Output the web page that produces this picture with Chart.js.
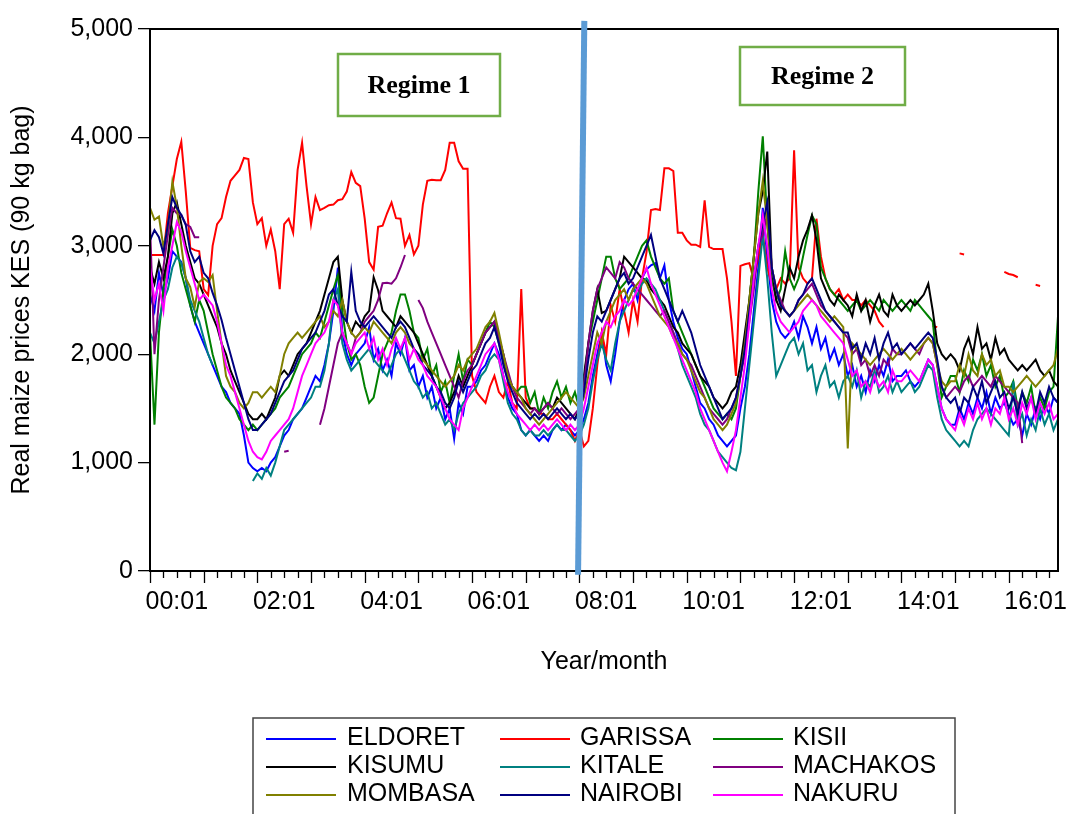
<!DOCTYPE html>
<html>
<head>
<meta charset="utf-8">
<title>Real maize prices</title>
<script src="https://cdn.jsdelivr.net/npm/chart.js@4.4.1/dist/chart.umd.min.js"></script>
<style>
    html, body { margin: 0; padding: 0; background: #fff; }
    #wrap { width: 1066px; height: 814px; }
</style>
</head>
<body>
<div id="wrap"><canvas id="maizeChart" width="1066" height="814"></canvas></div>
<script>
// monthly series, 2000:01 .. 2016:12
const startYear = 2000;
const monthCount = 204;
const xTickLabels = ['00:01', '02:01', '04:01', '06:01', '08:01', '10:01', '12:01', '14:01', '16:01'];
const yTickStep = 1000;
const yMax = 5000;

const cityNames = ['ELDORET', 'GARISSA', 'KISII', 'KISUMU', 'KITALE', 'MACHAKOS', 'MOMBASA', 'NAIROBI', 'NAKURU'];
const cityColors = ['#0000ff', '#ff0000', '#008000', '#000000', '#008080', '#800080', '#808000', '#000080', '#ff00ff'];

const eldoret = [
    2550, 2400, 2750, 2550, 2700, 2950, 2900, 2850, 2700, 2450, 2300, 2200,
    2100, 2000, 1900, 1800, 1700, 1650, 1550, 1500, 1450, 1250, 1000, 950,
    920, 950, 920, 1000, 1050, 1150, 1250, 1300, 1400, 1450, 1500, 1600,
    1700, 1800, 1750, 1900, 2100, 2400, 2800, 2200, 2000, 1900, 2000, 2050,
    2100, 2250, 1950, 2050, 1850, 1950, 1800, 2100, 2000, 2150, 1850, 1900,
    1700, 1800, 1600, 1700, 1500, 1600, 1400, 1500, 1220, 1550, 1450, 1700,
    1700, 1750, 1850, 1900, 2000, 2100, 2000, 1800, 1600, 1500, 1450, 1300,
    1250, 1300, 1250, 1200, 1250, 1200, 1300, 1350, 1300, 1350, 1300, 1250,
    1300, 1400, 1550, 1800, 2000, 2200, 1900, 1750, 2000, 2300, 2500, 2600,
    2650, 2500, 2700, 2780, 2820, 2840, 2700, 2820, 2500, 2300, 2150, 2050,
    2000, 1850, 1700, 1550, 1500, 1400, 1350, 1250, 1200, 1150, 1200, 1250,
    1500, 1700, 2000, 2400, 2800, 3350, 2900, 2500, 2300, 2200, 2150, 2200,
    2300, 2150, 2350, 2250, 2100, 2250, 2050, 2150, 1950, 2050, 1900, 2000,
    1800, 1900, 1700, 1800, 1650, 1850, 1750, 1900, 1800, 1950, 1750, 1800,
    1800, 1850, 1750, 1700, 1750, 1850, 1950, 1900, 1700, 1500, 1400, 1350,
    1350, 1500, 1400, 1550, 1450, 1600, 1500, 1650, 1450, 1600, 1500, 1550,
    1450, 1350, 1400, 1250, 1450, 1350, 1500, 1400, 1550, 1450, 1600, 1550
];

const garissa = [
    2915, 2915, 2915, 2915, 3300, 3550, 3800, 3960, 3500, 2980, 2960, 2950,
    2600, 2545, 3000, 3200, 3255, 3450, 3600, 3650, 3700, 3810, 3800, 3400,
    3200, 3255, 3000, 3150, 2950, 2600, 3200, 3250, 3120, 3700, 3950, 3550,
    3200, 3450, 3330, 3350, 3375, 3380, 3420, 3430, 3500, 3680, 3580, 3550,
    3250, 2850, 2780, 3175, 3185, 3300, 3400, 3255, 3250, 3000, 3100, 2920,
    3000, 3380, 3600, 3610, 3605, 3605, 3700, 3950, 3950, 3780, 3710, 3710,
    1800, 1650, 1600, 1550, 1700, 1800, 1650, 1600, 1750, 1550, 1500, 2600,
    1600, 1500, 1500, 1450, 1450, 1400, 1400, 1450, 1400, 1350, 1300, 1200,
    1300, 1150, 1200, 1500, 1900, 2200, 2000, 2450, 2300, 2600, 2400, 2200,
    2500, 2300, 2700, 2940, 3330, 3340, 3330, 3715, 3715, 3690, 3120, 3120,
    3050, 3010, 3010, 2990, 3420, 2990, 2970, 2970, 2970, 2700, 2300, 1800,
    2815, 2830, 2840, 2685, 2900, 3100, 2800, 2650, 2600, 2700, 2650, 2700,
    3880, 2800, 2700, 2650, 2700, 3250, 2900, 2700, 2600, 2550, 2600, 2500,
    2550, 2500, 2500, 2450, 2500, 2450, 2400, 2300, 2250, null, null, null,
    null, null, null, null, null, null, null, 2260, 2250, null, null, null,
    null, 2930, 2920, null, null, null, null, null, null, null, null, 2760,
    2740, 2730, 2710, null, null, null, 2640, 2630, null, null, null, null
];

const kisii = [
    2200, 1350, 2200, 2600, 2900, 3150, 3000, 2750, 2600, 2450, 2300, 2500,
    2400, 2200, 2000, 1850, 1700, 1600, 1550, 1500, 1400, 1350, 1300, 1350,
    1300, 1350, 1400, 1450, 1500, 1600, 1650, 1700, 1800, 1900, 2000, 2050,
    2100, 2200, 2150, 2300, 2450, 2600, 2730, 2400, 2100, 1950, 2000, 1900,
    1700, 1550, 1600, 1800, 2000, 2100, 2200, 2400, 2550, 2550, 2400, 2200,
    2150, 1950, 2050, 1800, 1900, 1650, 1750, 1550, 1800, 2000, 1750, 1950,
    1900, 2000, 2100, 2200, 2300, 2250, 2100, 1950, 1800, 1700, 1650, 1700,
    1700, 1550, 1650, 1450, 1600, 1500, 1650, 1750, 1600, 1700, 1550, 1650,
    1500, 1750, 2100, 2300, 2500, 2700, 2900, 2900, 2700, 2600, 2650, 2700,
    2800, 2900, 3000, 3050, 2900, 2800, 2700, 2650, 2700, 2400, 2300, 2200,
    2100, 2000, 1900, 1800, 1700, 1600, 1500, 1450, 1400, 1450, 1400, 1500,
    1800, 2100, 2500, 2900, 3500, 4010, 3200, 2700, 2500, 2600, 2950, 2700,
    2600, 2700, 2900, 3100, 3280, 3200, 2800, 2700, 2600, 2550, 2500, 2450,
    2400, 2450, 2500, 2400, 2450, 2500, 2450, 2400, 2500, 2450, 2400, 2450,
    2500, 2450, 2400, 2500, 2450, 2400, 2350, 2300, 1900, 1600, 1700, 1800,
    1800, 1650, 1850, 1750, 1950, 1850, 2000, 1800, 1900, 1700, 1800, 1600,
    1650, 1750, 1500, 1650, 1550, 1700, 1450, 1600, 1500, 1650, 1700, 2350
];

const kisumu = [
    2800, 2650, 2850, 2700, 2900, 3300, 3400, 3200, 3000, 2850, 2700, 2650,
    2550, 2450, 2350, 2250, 2100, 2000, 1850, 1750, 1650, 1550, 1450, 1400,
    1400, 1450, 1400, 1500, 1600, 1800, 1850, 1800, 1900, 2000, 2050, 2100,
    2200, 2300, 2400, 2550, 2700, 2850, 2900, 2500, 2300, 2200, 2300, 2250,
    2350, 2400, 2710, 2590, 2400, 2350, 2300, 2250, 2350, 2300, 2250, 2200,
    2100, 2000, 1900, 1800, 1700, 1600, 1500, 1550, 1650, 1800, 1700, 1800,
    1900, 2000, 2100, 2200, 2250, 2300, 2150, 2000, 1800, 1700, 1650, 1600,
    1550, 1500, 1500, 1450, 1500, 1550, 1500, 1600, 1550, 1500, 1450, 1400,
    1500, 1800, 2100, 2400, 2600, 2380, 2400, 2500, 2600, 2700, 2900, 2850,
    2800, 2750, 2700, 2685, 2600, 2550, 2500, 2450, 2350, 2250, 2200, 2100,
    2050, 2000, 1900, 1800, 1750, 1700, 1600, 1550, 1500, 1550, 1650, 1700,
    1900, 2200, 2500, 2900, 3300, 3500, 3870, 2800, 2500, 2400, 2600, 2800,
    2700, 2900, 3050, 3150, 3280, 3050, 2700, 2600, 2500, 2450, 2550, 2500,
    2450, 2350, 2550, 2400, 2500, 2300, 2450, 2550, 2400, 2350, 2550, 2450,
    2400, 2450, 2500, 2450, 2500, 2550, 2650, 2400, 2100, 2000, 1950, 2000,
    1950, 1850, 2050, 2150, 2000, 2250, 2050, 2100, 1950, 2150, 2000, 2050,
    1950, 1900, 1850, 1900, 1850, 1900, 1950, 1850, 1800, 1850, 1750, 1700
];

const kitale = [
    2200, 2100, 2300, 2500, 2600, 2800, 2900, 2840, 2700, 2500, 2400, 2300,
    2150, 2000, 1900, null, null, null, null, null, null, null, null, 830,
    900, 850, 950, 880, 1000, 1150, 1300, 1350, 1400, 1450, 1500, 1550,
    1600, 1700, 1700, 1850, 2100, 2500, 2600, 2100, 1950, 1850, 1900, 1950,
    2000, 2050, 1950, 1900, 1850, 1800, 1900, 2000, 2050, 1950, 1850, 1750,
    1700, 1600, 1650, 1500, 1550, 1450, 1350, 1400, 1300, 1450, 1550, 1600,
    1650, 1700, 1800, 1850, 1950, 2000, 1950, 1750, 1550, 1450, 1400, 1300,
    1250, 1300, 1250, 1250, 1300, 1250, 1300, 1350, 1300, 1300, 1250, 1200,
    1250, 1350, 1500, 1750, 1950, 2100, 1950, 1850, 2100, 2300, 2400, 2500,
    2600, 2550, 2650, 2700, 2650, 2600, 2500, 2400, 2300, 2200, 2050, 1900,
    1800, 1700, 1600, 1450, 1350, 1300, 1200, 1100, 1050, 1000, 950, 930,
    1100, 1500, 1900, 2300, 2700, 3100, 2700, 2200, 1800, 1900, 2000, 2100,
    2150, 2000, 2100, 1850, 1900, 1650, 1800, 1900, 1700, 1750, 1600, 1750,
    1800, 1700, 1850, 1600, 1750, 1700, 1850, 1650, 1700, 1800, 1650, 1750,
    1650, 1700, 1750, 1650, 1700, 1800, 1900, 1850, 1600, 1400, 1300, 1250,
    1200, 1150, 1200, 1150, 1300, 1400, 1450, 1500, 1450, 1400, 1350, 1300,
    1250, 1750, 1350, 1450, 1250, 1400, 1300, 1500, 1350, 1450, 1300, 1400
];

const machakos = [
    3200, 2000, 2500, 2800, 3100, 3350, 3300, 3285, 3200, 3175, 3080, 3080,
    null, null, null, null, null, null, null, null, null, null, null, null,
    null, null, null, null, null, null, 1100, 1110, null, null, null, null,
    null, null, 1350, 1500, 1700, 1900, 2100, 2200, 2100, 2000, 2150, 2200,
    2300, 2350, 2400, 2500, 2655, 2660, 2650, 2700, 2800, 2915, null, null,
    2500, 2425, 2300, 2200, 2100, 2000, 1900, 1800, 1700, 1600, 1750, 1850,
    1900, 2000, 2100, 2200, 2250, 2300, 2150, 2000, 1850, 1700, 1600, 1550,
    1500, 1450, 1500, 1450, 1500, 1550, 1500, 1450, 1500, 1450, 1400, 1450,
    1500, 1700, 2100, 2400, 2600, 2700, 2800, 2750, 2700, 2850, 2800, 2700,
    2650, 2600, 2550, 2500, 2450, 2400, 2350, 2400, 2300, 2200, 2100, 2000,
    1950, 1900, 1800, 1700, 1600, 1500, 1450, 1400, 1350, 1400, 1500, 1600,
    1800, 2000, 2300, 2600, 3000, 3100, 3300, 2800, 2600, 2500, 2400, 2350,
    2400, 2500, 2550, 2600, 2650, 2550, 2450, 2400, 2350, 2300, 2250, 2200,
    2150, 2000, 2050, 1900, 1950, 1800, 1900, 1800, 1950, 1900, 2050, 2000,
    2000, 2050, 2100, 2050, 2000, 2100, 2150, 2100, 1900, 1700, 1600, 1650,
    1700, 1650, 1750, 1800, 1700, 1750, 1800, 1750, 1700, 1800, 1750, 1700,
    1650, 1600, 1550, 1180, null, null, null, null, null, null, null, null
];

const mombasa = [
    3350, 3240, 3270, 2990, 3175, 3590, 3360, 3000, 2700, 2620, 2435, 2665,
    2700, 2665, 2730, 2400, 2100, 1800, 1700, 1650, 1550, 1500, 1550, 1650,
    1650, 1600, 1650, 1700, 1650, 1800, 2000, 2100, 2150, 2200, 2150, 2200,
    2250, 2300, 2350, 2250, 2300, 2400, 2350, 2500, 2300, 2200, 2150, 2200,
    2250, 2200, 2300, 2250, 2200, 2150, 2100, 2200, 2250, 2200, 2100, 2050,
    2000, 1950, 1900, 1850, 1800, 1750, 1700, 1750, 1800, 1900, 1850, 1950,
    2000, 2050, 2150, 2250, 2300, 2380, 2200, 2000, 1800, 1700, 1650, 1600,
    1500, 1450, 1400, 1350, 1400, 1450, 1500, 1550, 1600, 1650, 1600, 1550,
    1500, 1600, 1800, 2000, 2200, 2100, 2300, 2400, 2500, 2550, 2600, 2500,
    2600, 2650, 2700, 2650, 2550, 2450, 2350, 2300, 2250, 2150, 2100, 2000,
    1950, 1850, 1750, 1650, 1600, 1500, 1400, 1350, 1300, 1350, 1450, 1550,
    1800, 2100, 2500, 2900, 3300, 3600, 3200, 2800, 2600, 2450, 2400, 2350,
    2400, 2450, 2500, 2550, 2500, 2450, 2400, 2350, 2300, 2350, 2300, 2250,
    1130, 2100, 2050, 2000, 1950, 1900, 1950, 2000, 2050, 2000, 1950, 2000,
    2050, 2000, 1950, 2000, 2050, 2100, 2150, 2100, 1900, 1750, 1700, 1750,
    1750, 1900, 1800, 2000, 1850, 1800, 2000, 1900, 1950, 1800, 1850, 1700,
    1700, 1650, 1700, 1750, 1800, 1750, 1700, 1750, 1800, 1850, 1900, 2050
];

const nairobi = [
    3050, 3145, 3080, 2930, 3200, 3450, 3350, 3285, 3190, 2950, 2850, 2900,
    2750, 2700, 2565, 2450, 2315, 2150, 2000, 1850, 1700, 1550, 1400, 1300,
    1300, 1350, 1400, 1450, 1550, 1650, 1750, 1800, 1850, 1950, 2050, 2100,
    2150, 2200, 2300, 2400, 2550, 2600, 2450, 2350, 2300, 2760, 2400, 2300,
    2250, 2300, 2350, 2300, 2250, 2200, 2150, 2250, 2300, 2250, 2150, 2050,
    2000, 1900, 1850, 1800, 1700, 1650, 1550, 1500, 1600, 1750, 1650, 1750,
    1850, 1900, 2000, 2100, 2150, 2250, 2100, 1900, 1750, 1650, 1550, 1500,
    1450, 1400, 1450, 1400, 1450, 1400, 1450, 1500, 1450, 1400, 1450, 1400,
    1450, 1650, 1950, 2200, 2350, 2300, 2400, 2500, 2600, 2700, 2750, 2650,
    2700, 2800, 2900, 3000, 3100, 2900, 2700, 2600, 2500, 2400, 2300, 2400,
    2300, 2200, 2050, 1900, 1800, 1700, 1600, 1500, 1400, 1450, 1500, 1600,
    1800, 2050, 2400, 2700, 3000, 3200, 3400, 2800, 2600, 2450, 2400, 2350,
    2400, 2500, 2550, 2650, 2700, 2600, 2500, 2400, 2350, 2300, 2250, 2200,
    2200, 2050, 2100, 1950, 2100, 2000, 2150, 1950, 2100, 2200, 2050, 2100,
    2000, 2050, 2100, 2050, 2100, 2150, 2200, 2150, 1950, 1700, 1600, 1550,
    1600, 1450, 1600, 1550, 1700, 1600, 1750, 1550, 1650, 1750, 1600, 1650,
    1500, 1600, 1450, 1650, 1500, 1600, 1450, 1650, 1550, 1700, 1600, 1550
];

const nakuru = [
    2800, 2500, 2650, 2400, 2800, 3000, 3220, 3130, 2950, 2800, 2650, 2500,
    2550, 2500, 2450, 2300, 2100, 1900, 1800, 1650, 1500, 1350, 1200, 1100,
    1050, 1030, 1100, 1200, 1250, 1300, 1350, 1400, 1500, 1650, 1800, 1900,
    2000, 2100, 2150, 2200, 2300, 2500, 2450, 2200, 2100, 2000, 2100, 2150,
    2200, 2050, 2150, 1950, 2050, 1900, 2050, 2150, 2050, 2150, 1950, 2050,
    1950, 1900, 1800, 1750, 1700, 1600, 1500, 1400, 1350, 1300, 1500, 1600,
    1700, 1800, 1900, 2000, 2050, 2100, 1950, 1800, 1650, 1550, 1450, 1400,
    1350, 1300, 1350, 1300, 1350, 1300, 1350, 1400, 1350, 1300, 1350, 1300,
    1350, 1500, 1700, 1900, 2100, 2200, 2300, 2250, 2350, 2400, 2500, 2450,
    2500, 2600, 2700, 2800, 2650, 2550, 2450, 2350, 2250, 2150, 2050, 1950,
    1850, 1750, 1650, 1500, 1400, 1300, 1200, 1100, 1000, 920, 1100, 1300,
    1600, 1900, 2300, 2700, 3000, 3280, 3000, 2600, 2400, 2300, 2250, 2200,
    2250, 2300, 2400, 2450, 2500, 2450, 2350, 2300, 2250, 2200, 2150, 2100,
    1950, 1800, 1850, 1700, 1750, 1650, 1800, 1700, 1750, 1650, 1850, 1750,
    1750, 1800, 1850, 1800, 1750, 1850, 1950, 1900, 1700, 1500, 1400, 1350,
    1300, 1450, 1350, 1500, 1400, 1550, 1400, 1500, 1350, 1500, 1450, 1600,
    1400, 1500, 1350, 1550, 1450, 1600, 1400, 1550, 1450, 1550, 1400, 1450
];

const citySeries = [eldoret, garissa, kisii, kisumu, kitale, machakos, mombasa, nairobi, nakuru];

// regime break line, in data units (month index, price)
const regimeBreak = { top: [97.1, 5075], bottom: [95.7, -35] };
const regimeTexts = ['Regime 1', 'Regime 2'];

const FONT = '"Liberation Sans", Arial, sans-serif';

const monthLabels = [];
for (let i = 0; i < monthCount; i++) {
    const y = startYear + Math.floor(i / 12);
    const m = (i % 12) + 1;
    monthLabels.push(String(y % 100).padStart(2, '0') + ':' + String(m).padStart(2, '0'));
}

// frame, month ticks, regime marks and legend
const decorations = {
    id: 'decorations',
    afterDraw(chart) {
        const { ctx, chartArea: area, scales: { x, y } } = chart;
        ctx.save();

        // plot frame
        ctx.strokeStyle = '#000';
        ctx.lineWidth = 2;
        ctx.strokeRect(area.left, area.top, area.right - area.left, area.bottom - area.top);

        // x ticks: long every year, short every quarter
        ctx.lineWidth = 1.3;
        for (let i = 0; i < monthCount; i += 3) {
            const px = Math.round(x.getPixelForValue(i)) + 0.5;
            const len = i % 12 === 0 ? 12 : 7;
            ctx.beginPath();
            ctx.moveTo(px, area.bottom);
            ctx.lineTo(px, area.bottom + len);
            ctx.stroke();
        }

        // regime boxes
        const boxes = [
            { l: 338, t: 54, r: 500, b: 116 },
            { l: 740, t: 47, r: 905, b: 105 }
        ];
        ctx.strokeStyle = '#70ad47';
        ctx.lineWidth = 2.5;
        ctx.font = 'bold 26px "Liberation Serif", "Times New Roman", serif';
        ctx.textAlign = 'center';
        ctx.textBaseline = 'middle';
        boxes.forEach((bx, k) => {
            ctx.fillStyle = '#fff';
            ctx.fillRect(bx.l, bx.t, bx.r - bx.l, bx.b - bx.t);
            ctx.strokeRect(bx.l, bx.t, bx.r - bx.l, bx.b - bx.t);
            ctx.fillStyle = '#000';
            ctx.fillText(regimeTexts[k], (bx.l + bx.r) / 2, (bx.t + bx.b) / 2 + 1);
        });

        // regime break line (drawn over the frame)
        ctx.strokeStyle = '#5b9bd5';
        ctx.lineWidth = 6;
        ctx.beginPath();
        ctx.moveTo(x.getPixelForValue(regimeBreak.top[0]), y.getPixelForValue(regimeBreak.top[1]));
        ctx.lineTo(x.getPixelForValue(regimeBreak.bottom[0]), y.getPixelForValue(regimeBreak.bottom[1]));
        ctx.stroke();

        // legend
        const lg = { l: 253, t: 718, r: 955 };
        ctx.strokeStyle = '#444';
        ctx.lineWidth = 1.5;
        ctx.strokeRect(lg.l, lg.t, lg.r - lg.l, 120);
        const colLine = [266, 500, 713];
        const colText = [347, 580, 793];
        const rowY = [738, 766, 794];
        ctx.font = '25px ' + FONT;
        ctx.textAlign = 'left';
        ctx.textBaseline = 'middle';
        chart.data.datasets.forEach((ds, k) => {
            const c = k % 3, r = Math.floor(k / 3);
            ctx.strokeStyle = ds.borderColor;
            ctx.lineWidth = 2;
            ctx.beginPath();
            ctx.moveTo(colLine[c], rowY[r] + 1);
            ctx.lineTo(colLine[c] + 70, rowY[r] + 1);
            ctx.stroke();
            ctx.fillStyle = '#000';
            ctx.fillText(ds.label, colText[c], rowY[r]);
        });

        ctx.restore();
    }
};

const datasets = cityNames.map((name, k) => ({
    label: name,
    data: citySeries[k],
    borderColor: cityColors[k],
    backgroundColor: cityColors[k],
    borderWidth: 2,
    pointRadius: 0,
    tension: 0,
    spanGaps: false,
    order: cityNames.length - 1 - k
}));

new Chart(document.getElementById('maizeChart'), {
    type: 'line',
    data: { labels: monthLabels, datasets: datasets },
    options: {
        responsive: false,
        animation: false,
        devicePixelRatio: 1,
        layout: { padding: { left: 0, top: 29, right: 8, bottom: 0 } },
        plugins: {
            legend: { display: false },
            tooltip: { enabled: false }
        },
        scales: {
            x: {
                type: 'category',
                grid: { display: false },
                border: { display: false },
                ticks: {
                    autoSkip: false,
                    maxRotation: 0,
                    minRotation: 0,
                    padding: 8,
                    color: '#000',
                    font: { family: FONT, size: 25 },
                    callback: (val, idx) => ((idx - 6) % 24 === 0 ? xTickLabels[(idx - 6) / 24] : '')
                },
                title: {
                    display: true,
                    text: 'Year/month',
                    color: '#000',
                    font: { family: FONT, size: 25 },
                    padding: { top: 0, bottom: 137 }
                },
                afterFit: (scale) => { scale.height = 243; }
            },
            y: {
                min: 0,
                max: yMax,
                grid: { drawOnChartArea: false, drawTicks: true, tickLength: 12, color: '#000', lineWidth: 1.3 },
                border: { display: false },
                ticks: {
                    stepSize: yTickStep,
                    padding: 5,
                    color: '#000',
                    font: { family: FONT, size: 25 },
                    callback: (v) => v.toLocaleString('en-US')
                },
                title: {
                    display: true,
                    text: 'Real maize prices KES (90 kg bag)',
                    color: '#000',
                    font: { family: FONT, size: 25 },
                    padding: { top: 7, bottom: 0 }
                },
                afterFit: (scale) => { scale.width = 150; }
            }
        }
    },
    plugins: [decorations]
});
</script>
</body>
</html>
